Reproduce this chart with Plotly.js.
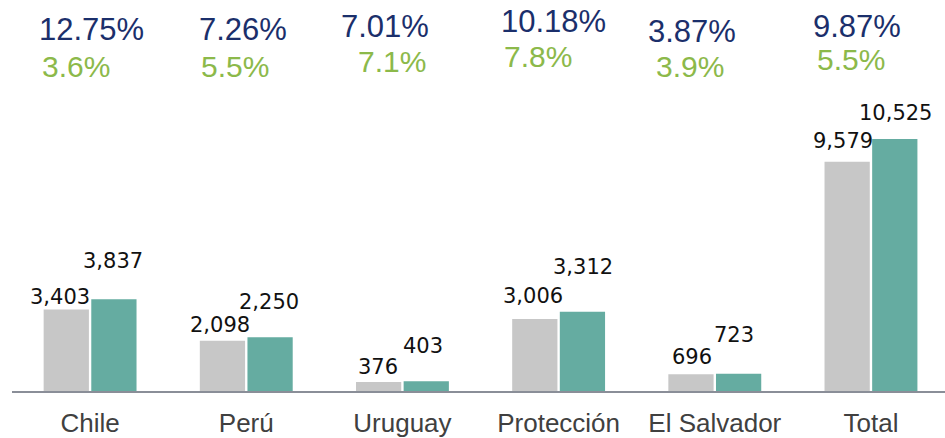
<!DOCTYPE html>
<html>
<head>
<meta charset="utf-8">
<script src="https://cdn.plot.ly/plotly-3.0.1.min.js"></script>
<style>html,body{margin:0;padding:0;background:#fff;}#chart{width:945px;height:438px;}</style>
</head>
<body>
<div id="chart"></div>
<script>
// ---- data ----
var categories = ['Chile', 'Perú', 'Uruguay', 'Protección', 'El Salvador', 'Total'];
var seriesPrev = [3403, 2098, 376, 3006, 696, 9579];
var seriesCurr = [3837, 2250, 403, 3312, 723, 10525];
var growthBlue = ['12.75%', '7.26%', '7.01%', '10.18%', '3.87%', '9.87%'];
var growthGreen = ['3.6%', '5.5%', '7.1%', '7.8%', '3.9%', '5.5%'];

// ---- label placement (styling only) ----
var prevLabelDx = [-30, -26, -24, -26, -23, -28];
var prevLabelDy = [-1, 2, 1, 9, 3, 7];
var currLabelDx = [23, 23, 21, 24, 19, 25];
var currLabelDy = [24, 21, 21, 31, 25, 12];
var blueDx = [1, -3, -17, -5, -23, -14];
var blueYpx = [30, 30, 27, 22, 32, 26];
var greenDx = [-14, -11, -10, -21, -25, -20];
var greenYpx = [66, 67, 61, 57, 67, 60];

var PLOT_TOP = 0, PLOT_H = 391;
function fmt(v){ return v.toLocaleString('en-US'); }

var traces = [
  {type:'bar', x:categories, y:seriesPrev, name:'prev',
   marker:{color:'#c7c7c7'}, hoverinfo:'none'},
  {type:'bar', x:categories, y:seriesCurr, name:'curr',
   marker:{color:'#65aca1'}, hoverinfo:'none'}
];

var ann = [];
categories.forEach(function(c, i){
  ann.push({x:c, y:seriesPrev[i], xref:'x', yref:'y', text:fmt(seriesPrev[i]),
    showarrow:false, xanchor:'center', yanchor:'bottom', xshift:prevLabelDx[i], yshift:prevLabelDy[i],
    font:{family:'DejaVu Sans', size:21, color:'#111'}});
  ann.push({x:c, y:seriesCurr[i], xref:'x', yref:'y', text:fmt(seriesCurr[i]),
    showarrow:false, xanchor:'center', yanchor:'bottom', xshift:currLabelDx[i], yshift:currLabelDy[i],
    font:{family:'DejaVu Sans', size:21, color:'#111'}});
  ann.push({x:c, y:1 - (blueYpx[i]-PLOT_TOP)/PLOT_H, xref:'x', yref:'paper', text:growthBlue[i],
    showarrow:false, xanchor:'center', yanchor:'middle', xshift:blueDx[i],
    font:{family:'Liberation Sans', size:31, color:'#1b2f6b'}});
  ann.push({x:c, y:1 - (greenYpx[i]-PLOT_TOP)/PLOT_H, xref:'x', yref:'paper', text:growthGreen[i],
    showarrow:false, xanchor:'center', yanchor:'middle', xshift:greenDx[i],
    font:{family:'Liberation Sans', size:30, color:'#8cb94a'}});
});

var layout = {
  width:945, height:438,
  margin:{l:12, r:0, t:0, b:47, pad:0},
  paper_bgcolor:'#fff', plot_bgcolor:'#fff',
  showlegend:false,
  barmode:'group', bargap:0.39, bargroupgap:0.05,
  xaxis:{type:'category', range:[-0.5, 5.474], showline:true, linecolor:'#8a8e98', linewidth:1.5,
    showgrid:false, zeroline:false, ticks:'', fixedrange:true, ticklabelstandoff:8,
    tickfont:{family:'Liberation Sans', size:26, color:'#404040'}},
  yaxis:{range:[0, 16333], visible:false, showgrid:false, zeroline:false, fixedrange:true},
  annotations:ann
};

Plotly.newPlot('chart', traces, layout, {staticPlot:true, displayModeBar:false});
</script>
</body>
</html>
